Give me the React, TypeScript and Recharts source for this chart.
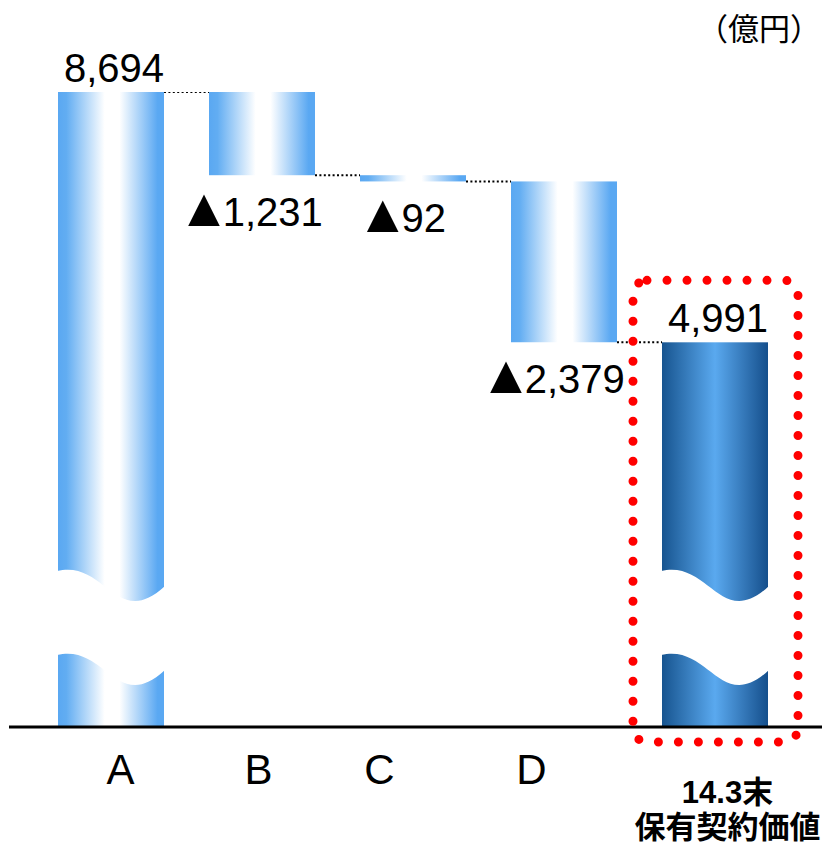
import React from 'react';
import { BarChart, Bar, XAxis, YAxis, LabelList } from 'recharts';

// waterfall: start -> three decreases -> end value (億円)
const categories = ['A', 'B', 'C', 'D', '14.3末\n保有契約価値'];
const changes = [8694, -1231, -92, -2379, 4991];
const isTotal = [true, false, false, false, true];

// axis is broken under the two total bars, so the floor sits below zero
const AXIS_FLOOR = -700;

const W = 825;
const H = 844;
const BAR_SIZE = 106;
const BAND = 151;
const GAP = BAND - BAR_SIZE;
const tickNudge = [10, -3, -33, -32, 13];

const FONT = '"Liberation Sans", Arial, sans-serif';
const CJK = '"Liberation Sans", "Noto Sans CJK JP", sans-serif';

const fmt = (v: number) => Math.abs(v).toLocaleString('en-US');

let running = 0;
const rows = categories.map((name, i) => {
  const v = changes[i];
  let range: [number, number];
  if (isTotal[i]) {
    range = [AXIS_FLOOR, v];
    running = v;
  } else {
    const end = running + v;
    range = [end, running];
    running = end;
  }
  return { name, range, total: isTotal[i], label: fmt(v) };
});

// white wavy band = axis break mark
const wavePath = (x: number, y0: number, w: number) => {
  const t = 84;
  const a = x - 1;
  const b = x + w + 1;
  const ww = b - a;
  return (
    `M${a},${y0} C${a + 0.45 * ww},${y0 - 12} ${a + 0.55 * ww},${y0 + 60} ${b},${y0 + 15} ` +
    `L${b},${y0 + 15 + t} C${a + 0.55 * ww},${y0 + 60 + t} ${a + 0.45 * ww},${y0 - 12 + t} ${a},${y0 + t} Z`
  );
};

const renderBar = (props: any) => {
  const { x, y, width, height, index, payload } = props;
  const last = index === categories.length - 1;
  const fill = last ? 'url(#gradDark)' : 'url(#gradLight)';
  const endY = payload.total ? y : y + height;
  return (
    <g>
      <rect x={x} y={y} width={width} height={height} fill={fill} />
      {payload.total && <path d={wavePath(x, y + height - 156, width)} fill="#fff" />}
      {!last && (
        <line
          x1={x + width}
          x2={x + width + GAP}
          y1={endY}
          y2={endY}
          stroke="#000"
          strokeWidth={2}
          strokeDasharray="2 2.4"
        />
      )}
    </g>
  );
};

const renderValue = (props: any) => {
  const { x, y, width, height, value, index } = props;
  const cx = x + width / 2;
  if (isTotal[index]) {
    const last = index === categories.length - 1;
    return (
      <g>
        {last && (
          <rect
            x={x - 29}
            y={y - 62}
            width={width + 59}
            height={height + 77}
            rx={14}
            fill="none"
            stroke="#ff0000"
            strokeWidth={9}
            strokeDasharray="0 20"
            strokeLinecap="round"
          />
        )}
        <text x={cx + 3} y={y - 10} textAnchor="middle" fontSize={40} fontFamily={FONT} fill="#000">
          {value}
        </text>
      </g>
    );
  }
  return (
    <text x={cx - 12} y={y + height + 51} textAnchor="middle" fontSize={40} fontFamily={FONT} fill="#000">
      <tspan fontSize={54}>▲</tspan>
      <tspan dx={-8}>{value}</tspan>
    </text>
  );
};

const renderTick = (props: any) => {
  const { x, y, payload, index } = props;
  const lines = String(payload.value).split('\n');
  const tx = x + tickNudge[index];
  if (lines.length === 1) {
    return (
      <text x={tx} y={y + 49} textAnchor="middle" fontSize={42} fontFamily={FONT} fill="#000">
        {lines[0]}
      </text>
    );
  }
  return (
    <text x={tx} textAnchor="middle" fontSize={31} fontWeight="bold" fontFamily={CJK} fill="#000">
      <tspan x={tx} y={y + 68}>{lines[0]}</tspan>
      <tspan x={tx} y={y + 103}>{lines[1]}</tspan>
    </text>
  );
};

export default function App() {
  return (
    <div style={{ position: 'absolute', left: 0, top: 0, width: W, height: H, background: '#fff' }}>
      <BarChart width={W} height={H} data={rows} margin={{ top: 92, right: 3, bottom: 0, left: 9 }}>
        <defs>
          <linearGradient id="gradLight" x1="0" y1="0" x2="1" y2="0">
            <stop offset="0" stopColor="#5aa8f2" />
            <stop offset="0.08" stopColor="#62adf2" />
            <stop offset="0.44" stopColor="#ffffff" />
            <stop offset="0.58" stopColor="#ffffff" />
            <stop offset="0.94" stopColor="#5aa8f2" />
            <stop offset="1" stopColor="#5aa8f2" />
          </linearGradient>
          <linearGradient id="gradDark" x1="0" y1="0" x2="1" y2="0">
            <stop offset="0" stopColor="#17548f" />
            <stop offset="0.5" stopColor="#5aa9ef" />
            <stop offset="1" stopColor="#154f8c" />
          </linearGradient>
        </defs>
        <XAxis
          dataKey="name"
          height={117}
          padding={{ left: 26, right: 32 }}
          axisLine={{ stroke: '#000', strokeWidth: 3 }}
          tickLine={false}
          tick={renderTick}
          interval={0}
        />
        <YAxis hide type="number" domain={[AXIS_FLOOR, 8694]} allowDataOverflow />
        <Bar dataKey="range" barSize={BAR_SIZE} shape={renderBar} isAnimationActive={false}>
          <LabelList dataKey="label" content={renderValue} />
        </Bar>
      </BarChart>
      <div
        style={{
          position: 'absolute',
          left: 697,
          top: 4,
          fontSize: 31,
          fontFamily: '"Noto Sans CJK JP", sans-serif',
          color: '#000',
          whiteSpace: 'nowrap',
        }}
      >
        （億円）
      </div>
    </div>
  );
}
